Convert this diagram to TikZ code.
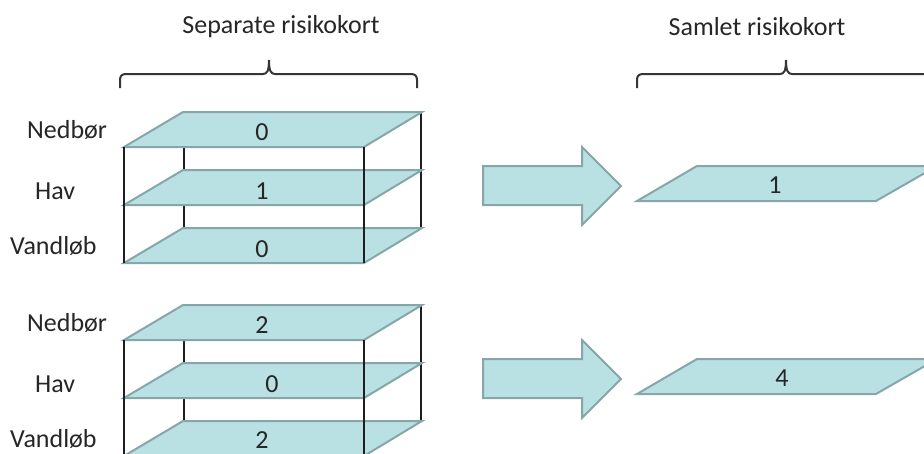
\documentclass[tikz,border=0pt]{standalone}
\usepackage{fontspec}
\setmainfont{Carlito}
\definecolor{planefill}{HTML}{B9E0E3}
\definecolor{planeedge}{HTML}{86A6A9}
\definecolor{inkline}{HTML}{1E1E1E}
\begin{document}
\begin{tikzpicture}[x=1pt,y=-1pt,
  plane/.style={fill=planefill,draw=planeedge,line width=2pt,line join=miter},
  post/.style={draw=inkline,line width=1.7pt},
  bracepath/.style={draw=inkline!90,line width=2pt},
  lbl/.style={font=\fontsize{26}{30}\selectfont,text=black!85,inner sep=0pt},
  blockarrow/.style={fill=planefill,draw=planeedge,line width=2pt,line join=miter}]
\useasboundingbox (0,0) rectangle (924,453);
\clip (0,0) rectangle (924,453);

% titles
\node[lbl] (t1) at (281,27) {Separate risikokort};
\node[lbl] (t2) at (757,27) {Samlet risikokort};

% braces
\draw[bracepath] (120,88) -- (120,80) .. controls (120,76) and (122,74) .. (126,74)
  -- (263,74) .. controls (267,74) and (269,71) .. (269,60)
  .. controls (269,71) and (271,74) .. (275,74) -- (411,74)
  .. controls (415,74) and (417,76) .. (417,80) -- (417,88);
\draw[bracepath] (637,88) -- (637,80) .. controls (637,76) and (639,74) .. (643,74)
  -- (780,74) .. controls (784,74) and (786,71) .. (786,60)
  .. controls (786,71) and (788,74) .. (792,74) -- (929,74)
  .. controls (933,74) and (935,76) .. (935,80) -- (935,88);

% stacks
\foreach \dy/\na/\nb/\nc/\xb/\yc/\s in {0/0/1/0/262/249/a,193/2/0/2/272/247/b}{
  \begin{scope}[yshift=-\dy]
    % back posts
    \draw[post] (184,147) -- (184,228);
    \draw[post] (421,112) -- (421,228);
    % planes
    \foreach \t/\i in {112/0,170/1,228/2}{
      \draw[plane] (124,\t+35) -- (364,\t+35) -- (422,\t) -- (183,\t) -- cycle;
    }
    % front posts
    \draw[post] (124,147) -- (124,263);
    \draw[post] (364,147) -- (364,263);
    \node[lbl] (n0\s) at (262,132) {\na};
    \node[lbl] (n1\s) at (\xb,191) {\nb};
    \node[lbl] (n2\s) at (262,\yc) {\nc};
    \node[lbl,anchor=west] (ned\s) at (27,130) {Nedbør};
    \node[lbl,anchor=west] (hav\s) at (35,191) {Hav};
    \node[lbl,anchor=west] (van\s) at (10,246) {Vandløb};
    % block arrow
    \draw[blockarrow] (483,166) -- (582,166) -- (582,147) -- (621,186)
      -- (582,225) -- (582,205) -- (483,205) -- cycle;
    % result plane
    \draw[plane] (637,201) -- (876,201) -- (937,166) -- (697,166) -- cycle;
  \end{scope}
}
\node[lbl] (r1) at (775,185) {1};
\node[lbl] (r2) at (782,378) {4};
\end{tikzpicture}
\end{document}
